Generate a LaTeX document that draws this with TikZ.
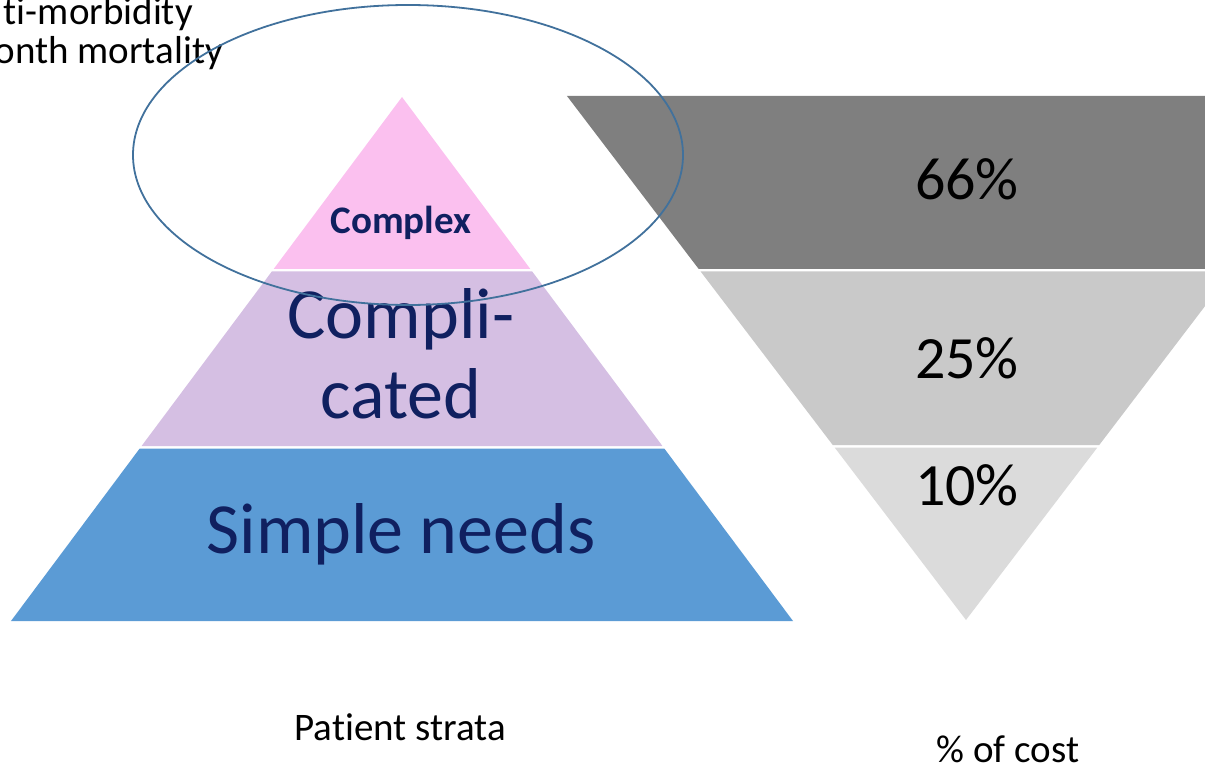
\documentclass[tikz,border=0pt]{standalone}
\usepackage{fontspec}
\setmainfont{Carlito}[RawFeature={-liga;-clig;-calt;-dlig}]
\definecolor{pinklayer}{HTML}{FBC0EF}
\definecolor{lilaclayer}{HTML}{D5BFE3}
\definecolor{bluelayer}{HTML}{5B9BD5}
\definecolor{navytext}{HTML}{102060}
\definecolor{ringblue}{HTML}{41719C}
\definecolor{costdark}{HTML}{7F7F7F}
\definecolor{costmid}{HTML}{C9C9C9}
\definecolor{costlight}{HTML}{DBDBDB}
\tikzset{
  stratum/.style={navytext, inner sep=0pt, anchor=base, font=\fontsize{72}{76}\selectfont},
  costlabel/.style={black, inner sep=0pt, anchor=base, font=\fontsize{60}{64}\selectfont},
  caption/.style={black, inner sep=0pt, anchor=base, font=\fontsize{39}{44}\selectfont}
}

\begin{document}
\begin{tikzpicture}[x=1pt,y=-1pt]
  \useasboundingbox (0,0) rectangle (1205,767);
  \clip (0,0) rectangle (1205,767);
  % pyramid of patient strata
  \foreach \t/\b/\c in {97/269/pinklayer, 271.5/446/lilaclayer, 448.5/621/bluelayer}{
    \fill[\c] ({402-(\t-97)*0.7462},\t) -- ({402+(\t-97)*0.7462},\t)
      -- ({402+(\b-97)*0.7462},\b) -- ({402-(\b-97)*0.7462},\b) -- cycle;
  }
  % funnel of cost
  \foreach \t/\b/\c in {96/269/costdark, 271.5/445/costmid, 447.5/620/costlight}{
    \fill[\c] ({966-(620-\t)*0.7615},\t) -- ({966+(620-\t)*0.7615},\t)
      -- ({966+(620-\b)*0.7615},\b) -- ({966-(620-\b)*0.7615},\b) -- cycle;
  }
  \node[stratum, font=\bfseries\fontsize{39}{44}\selectfont] (complex) at (401,234) {Complex};
  \node[stratum] (compli) at (401,338) {Compli-};
  \node[stratum] (cated) at (401,418) {cated};
  \node[stratum] (simple) at (401,553) {Simple needs};
  \node[costlabel] (high) at (967,200) {66\%};
  \node[costlabel] (mid) at (967,378) {25\%};
  \node[costlabel] (low) at (967,505) {10\%};
  \node[caption, anchor=base east] (morbidity) at (193,25) {ti-morbidity};
  \node[caption, anchor=base east] (mortality) at (223,64) {onth mortality};
  \node[caption] (strata) at (400,740) {Patient strata};
  \node[caption] (cost) at (1008,762) {\% of cost};
  % ring round the top stratum
  \draw[ringblue, line width=1.8] (408,155) ellipse [x radius=275, y radius=150];
\end{tikzpicture}
\end{document}
